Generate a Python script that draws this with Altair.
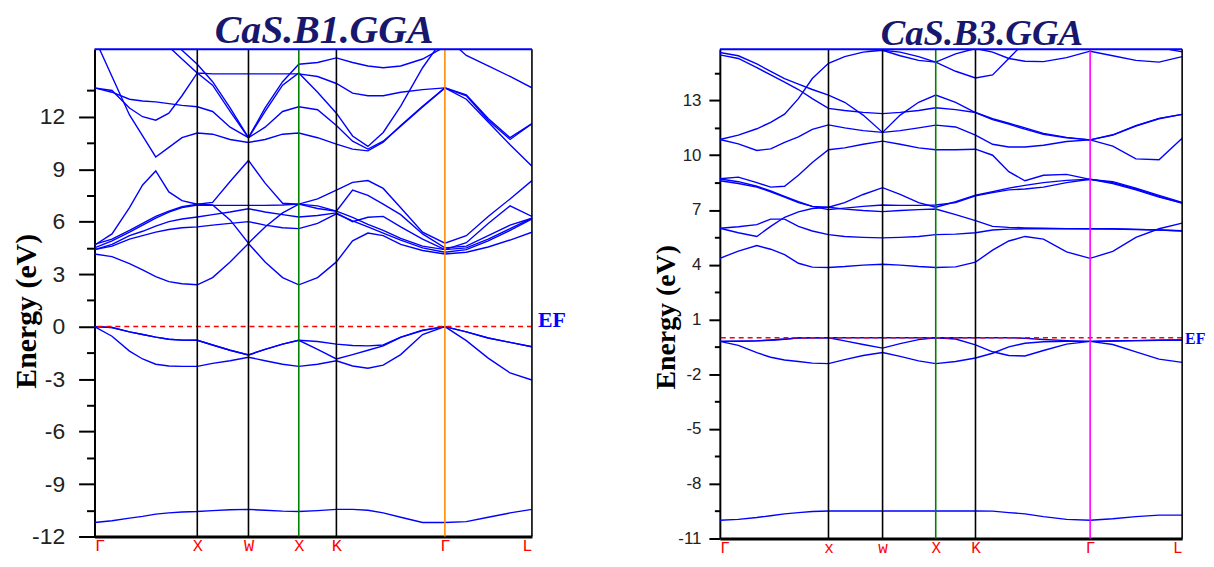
import json
import altair as alt
import pandas as pd

# common k-path grid (fraction of path length)
K = [0, 0.04, 0.08, 0.11, 0.14, 0.17, 0.20, 0.235, 0.27, 0.31, 0.352, 0.39, 0.43,
     0.467, 0.51, 0.553, 0.59, 0.625, 0.66, 0.70, 0.75, 0.801, 0.85, 0.90, 0.95, 1.0]
K_TICKS = [0, 0.235, 0.352, 0.467, 0.553, 0.801, 1.0]
B1_LABELS = ["Γ", "X", "W", "X", "K", "Γ", "L"]
B3_LABELS = ["Γ", "x", "w", "X", "K", "Γ", "L"]
B1_VCOLORS = ["black", "black", "#008000", "black", "#ff8c00", "black"]
B3_VCOLORS = ["black", "black", "#008000", "black", "#ff00ff", "black"]
B1_MAJOR = [-12, -9, -6, -3, 0, 3, 6, 9, 12]
B1_MINOR = [-10.5, -7.5, -4.5, -1.5, 1.5, 4.5, 7.5, 10.5, 13.5]
B3_MAJOR = [-11, -8, -5, -2, 1, 4, 7, 10, 13]
B3_MINOR = [-9.5, -6.5, -3.5, -0.5, 2.5, 5.5, 8.5, 11.5, 14.5]
B1_YRANGE = [-12, 15.85]
B3_YRANGE = [-11, 15.8]
EF_LEVEL = [0.0]

# ---------------- CaS B1 bands ----------------
B1_VB_S = [-11.2, -11.1, -10.95, -10.85, -10.72, -10.65, -10.6, -10.57, -10.52, -10.47, -10.45, -10.5, -10.55,
           -10.57, -10.52, -10.45, -10.45, -10.5, -10.65, -10.9, -11.2, -11.2, -11.15, -10.9, -10.65, -10.45]
B1_VB1 = [0, -0.05, -0.3, -0.45, -0.6, -0.72, -0.77, -0.78, -1.05, -1.35, -1.62, -1.3, -1.0,
          -0.78, -0.85, -1.0, -1.08, -1.1, -1.05, -0.6, -0.2, 0, -0.3, -0.65, -0.9, -1.15]
B1_VB2 = [0, -0.05, -0.3, -0.45, -0.6, -0.72, -0.77, -0.78, -1.05, -1.35, -1.62, -1.3, -1.0,
          -0.78, -1.3, -1.85, -1.6, -1.35, -1.1, -0.62, -0.22, 0, -0.3, -0.65, -0.9, -1.15]
B1_VB3 = [0, -0.55, -1.4, -1.85, -2.15, -2.25, -2.27, -2.27, -2.1, -1.95, -1.75, -1.95, -2.15,
          -2.27, -2.15, -1.95, -2.25, -2.38, -2.2, -1.6, -0.45, 0, -0.8, -1.8, -2.65, -3.05]
B1_CB1 = [4.15, 4.0, 3.6, 3.25, 2.86, 2.57, 2.45, 2.39, 2.8, 3.7, 4.75, 3.7, 2.8,
          2.39, 2.8, 3.7, 4.9, 5.35, 5.2, 4.7, 4.35, 4.15, 4.25, 4.55, 4.95, 5.4]
B1_CB2 = [4.65, 5.3, 6.8, 8.1, 8.9, 7.7, 7.2, 7.0, 7.1, 8.3, 9.5, 8.2, 7.05,
          7.0, 7.3, 7.8, 8.25, 8.35, 7.9, 6.8, 5.4, 4.77, 5.2, 6.3, 7.3, 8.35]
B1_CB3 = [4.7, 5.0, 5.5, 5.9, 6.3, 6.6, 6.85, 7.0, 6.95, 6.1, 4.77, 5.7, 6.5,
          7.0, 6.9, 6.6, 6.25, 5.85, 5.5, 5.05, 4.6, 4.4, 4.8, 5.9, 6.9, 6.3]
B1_CB4 = [4.5, 4.9, 5.4, 5.8, 6.2, 6.55, 6.8, 6.95, 6.93, 6.93, 6.93, 6.93, 6.95,
          7.0, 6.75, 6.6, 7.8, 7.5, 7.0, 6.4, 5.3, 4.5, 4.6, 5.2, 5.8, 6.2]
B1_CB5 = [4.4, 4.7, 5.2, 5.45, 5.75, 6.0, 6.15, 6.27, 6.4, 6.55, 6.74, 6.55, 6.4,
          6.27, 6.35, 6.5, 6.0, 6.25, 6.3, 5.7, 5.0, 4.4, 4.5, 5.0, 5.6, 6.2]
B1_CB6 = [4.4, 4.6, 5.0, 5.2, 5.4, 5.55, 5.65, 5.7, 5.8, 5.9, 6.0, 5.8, 5.65,
          5.6, 5.9, 6.45, 6.05, 5.7, 5.35, 4.95, 4.5, 4.25, 4.4, 4.9, 5.5, 6.15]
B1_CB7 = [13.65, 13.4, 13.0, 12.9, 12.85, 12.75, 12.65, 12.57, 12.3, 11.4, 10.8, 11.4, 12.3,
          12.57, 12.4, 11.5, 10.6, 10.15, 10.6, 11.45, 12.55, 13.65, 13.0, 11.7, 10.4, 9.17]
B1_CB8 = [13.65, 13.5, 12.5, 12.0, 11.8, 12.2, 13.2, 14.5, 13.8, 12.3, 10.8, 12.3, 13.8,
          14.5, 13.4, 12.2, 10.9, 10.3, 11.1, 12.6, 14.8, 16.6, 15.5, 14.9, 14.3, 13.65]
B1_CB9 = [16.5, 14.3, 12.1, 10.9, 9.7, 10.25, 10.8, 11.07, 11.0, 10.7, 10.53, 10.7, 11.0,
          11.07, 10.8, 10.43, 10.15, 10.05, 10.55, 11.5, 12.6, 13.65, 13.25, 11.9, 10.8, 11.6]
B1_CB10 = [18, 18, 17.5, 17, 16.5, 16.0, 15.3, 14.5, 14.45, 14.45, 14.45, 14.45, 14.45,
           14.45, 14.3, 13.9, 13.35, 13.2, 13.2, 13.4, 13.55, 13.65, 13.2, 11.8, 10.7, 11.6]
B1_CB11 = [18, 18, 18, 18, 17.5, 16.6, 15.8, 15.0, 14.0, 12.5, 10.8, 12.5, 14.0,
           15.0, 15.1, 15.36, 15.1, 14.9, 14.8, 14.9, 15.3, 16.0, 17, 17, 17, 17]

# ---------------- CaS B3 bands ----------------
B3_VB_S = [-10.0, -9.95, -9.85, -9.75, -9.65, -9.58, -9.52, -9.49, -9.49, -9.49, -9.49, -9.49, -9.49,
           -9.49, -9.49, -9.49, -9.5, -9.58, -9.65, -9.8, -9.95, -10.0, -9.92, -9.8, -9.72, -9.72]
B3_VB1 = [-0.2, -0.19, -0.17, -0.14, -0.08, 0, 0, 0, 0, 0, 0, 0, 0,
          0, 0, 0, 0, 0, -0.03, -0.1, -0.16, -0.2, -0.18, -0.16, -0.14, -0.12]
B3_VB2 = [-0.2, -0.42, -0.82, -1.07, -1.22, -1.3, -1.39, -1.42, -1.2, -0.97, -0.81, -1.02, -1.27,
          -1.42, -1.3, -1.11, -0.85, -0.5, -0.3, -0.22, -0.2, -0.2, -0.37, -0.77, -1.17, -1.35]
B3_VB3 = [-0.2, -0.19, -0.17, -0.12, -0.07, -0.02, 0, 0, -0.17, -0.37, -0.57, -0.32, -0.1,
          0, -0.07, -0.39, -0.77, -0.97, -1.0, -0.7, -0.35, -0.2, -0.18, -0.16, -0.14, -0.12]
B3_CB1 = [4.35, 4.75, 5.05, 4.85, 4.55, 4.08, 3.87, 3.85, 3.9, 3.98, 4.03, 3.98, 3.9,
          3.85, 3.88, 4.14, 4.8, 5.3, 5.55, 5.4, 4.7, 4.35, 4.73, 5.5, 5.97, 6.28]
B3_CB2 = [6.0, 5.75, 5.55, 6.1, 6.6, 6.9, 7.08, 7.15, 7.4, 7.85, 8.22, 7.85, 7.4,
          7.15, 7.45, 7.81, 8.0, 8.2, 8.35, 8.5, 8.62, 8.68, 8.5, 8.15, 7.75, 7.38]
B3_CB3 = [6.0, 6.08, 6.2, 6.5, 6.5, 6.1, 5.85, 5.65, 5.55, 5.5, 5.47, 5.5, 5.55,
          5.65, 5.68, 5.75, 5.9, 5.95, 5.97, 5.97, 5.97, 5.97, 5.96, 5.93, 5.9, 5.85]
B3_CB4 = [8.6, 8.45, 8.25, 8.0, 7.7, 7.4, 7.2, 7.15, 7.05, 6.97, 6.91, 6.97, 7.02,
          7.05, 6.75, 6.42, 6.1, 6.05, 6.02, 6.0, 5.98, 5.97, 5.97, 5.94, 5.9, 5.86]
B3_CB5 = [8.7, 8.55, 8.3, 8.05, 7.75, 7.45, 7.2, 7.02, 7.1, 7.2, 7.27, 7.25, 7.25,
          7.27, 7.4, 7.77, 7.95, 8.1, 8.15, 8.25, 8.5, 8.68, 8.45, 8.1, 7.7, 7.38]
B3_CB6 = [8.71, 8.8, 8.5, 8.25, 8.3, 8.9, 9.6, 10.3, 10.4, 10.6, 10.77, 10.6, 10.4,
          10.3, 10.3, 10.33, 10.0, 9.1, 8.6, 8.9, 8.95, 8.68, 8.55, 8.2, 7.8, 7.42]
B3_CB7 = [10.86, 10.62, 10.26, 10.35, 10.7, 11.0, 11.42, 11.66, 11.5, 11.35, 11.25, 11.35, 11.5,
          11.65, 11.55, 11.1, 10.6, 10.45, 10.45, 10.55, 10.75, 10.84, 10.5, 9.8, 9.75, 10.93]
B3_CB8 = [10.86, 11.1, 11.45, 11.8, 12.25, 13.1, 14.2, 15.04, 15.4, 15.65, 15.75, 15.65, 15.4,
          15.1, 14.6, 14.23, 14.4, 15.3, 16.2, 16.6, 16.6, 16.6, 16.5, 16.2, 15.9, 15.66]
B3_CB9 = [15.63, 15.45, 15.0, 14.6, 14.2, 13.9, 13.6, 13.29, 12.9, 12.2, 11.25, 12.2, 12.9,
          13.3, 12.9, 12.34, 11.95, 11.7, 11.43, 11.15, 10.95, 10.84, 11.1, 11.6, 12.0, 12.24]
B3_CB10 = [15.5, 15.3, 14.8, 14.4, 14.0, 13.6, 13.1, 12.57, 12.45, 12.35, 12.28, 12.35, 12.45,
           12.6, 12.5, 12.34, 12.0, 11.75, 11.5, 11.2, 10.98, 10.84, 11.12, 11.62, 12.02, 12.24]
B3_CB11 = [16.2, 16.2, 16.1, 16.0, 16.0, 16.0, 15.95, 15.9, 15.85, 15.8, 15.75, 15.45, 15.2,
           15.1, 15.55, 15.85, 15.65, 15.3, 15.15, 15.13, 15.35, 15.7, 15.45, 15.2, 15.1, 15.4]

B1_BANDS = {"vs": B1_VB_S, "v1": B1_VB1, "v2": B1_VB2, "v3": B1_VB3, "c1": B1_CB1, "c2": B1_CB2,
            "c3": B1_CB3, "c4": B1_CB4, "c5": B1_CB5, "c6": B1_CB6, "c7": B1_CB7, "c8": B1_CB8,
            "c9": B1_CB9, "c10": B1_CB10, "c11": B1_CB11}
B3_BANDS = {"vs": B3_VB_S, "v1": B3_VB1, "v2": B3_VB2, "v3": B3_VB3, "c1": B3_CB1, "c2": B3_CB2,
            "c3": B3_CB3, "c4": B3_CB4, "c5": B3_CB5, "c6": B3_CB6, "c7": B3_CB7, "c8": B3_CB8,
            "c9": B3_CB9, "c10": B3_CB10, "c11": B3_CB11}

BLUE = "#0000ff"
NAVY = "#17176e"


def band_frame(bands):
    rows = []
    for name, vals in bands.items():
        for k, e in zip(K, vals):
            rows.append({"band": name, "k": k, "E": e})
    return pd.DataFrame(rows)


def panel(title, tsize, tdx, toff, bands, labels, vcolors, major, minor, yrange, w, h,
          lab_size, tick_len, lab_pad, ytsize, ytx, yty, xlab_size, xlab_pad, ef_size, ef_dx, ef_dy):
    ymin, ymax = yrange
    xs = alt.Scale(domain=[0, 1], nice=False, zero=False)
    ys = alt.Scale(domain=[ymin, ymax], nice=False, zero=False)
    test = f"abs(datum.value - ({ymin})) % 3 < 0.01"
    yaxis = alt.Axis(
        values=sorted(major + minor), labelExpr=f"{test} ? '' + datum.value : ''",
        tickSize={"condition": {"test": test, "value": tick_len}, "value": tick_len / 2},
        tickColor="black", tickWidth=2, labelFont="Liberation Sans", labelFontSize=lab_size,
        labelColor="#222222", labelPadding=lab_pad, domainColor="black", domainWidth=2, grid=False,
        title="Energy (eV)", titleFont="Liberation Serif", titleFontSize=ytsize, titleFontWeight="bold",
        titleColor="black", titleX=ytx, titleY=yty, titleAngle=270, titleAlign="center",
        titleBaseline="middle", labelOverlap=False,
    )
    xaxis = alt.Axis(
        values=K_TICKS, labelExpr=f"{json.dumps(labels)}[indexof({json.dumps(K_TICKS)}, datum.value)]",
        ticks=False, labelFlush=True, labelOverlap=False, labelColor="#ff0000", labelFont="Liberation Mono",
        labelFontSize=xlab_size, labelPadding=xlab_pad, domainColor="black", domainWidth=3, grid=False,
        title=None, labelBaseline="top",
    )
    X = lambda: alt.X("k:Q", scale=xs, axis=xaxis)
    Y = lambda: alt.Y("E:Q", scale=ys, axis=yaxis)
    lines = alt.Chart(band_frame(bands)).mark_line(color=BLUE, strokeWidth=1.4, clip=True).encode(
        x=X(), y=Y(), detail="band:N")
    vlines = alt.Chart(pd.DataFrame({"k": K_TICKS[1:], "c": vcolors})).mark_rule(strokeWidth=1.6).encode(
        x=X(), color=alt.Color("c:N", scale=None))
    ef = alt.Chart(pd.DataFrame({"E": EF_LEVEL})).mark_rule(
        color="#ff0000", strokeDash=[5, 4], strokeWidth=1.5).encode(y=Y())
    top = alt.Chart(pd.DataFrame({"E": [ymax]})).mark_rule(color=BLUE, strokeWidth=2).encode(y=Y())
    eftext = alt.Chart(pd.DataFrame({"k": [1.0], "E": EF_LEVEL, "t": ["EF"]})).mark_text(
        font="Liberation Serif", fontWeight="bold", fontSize=ef_size, color=BLUE, align="left",
        baseline="alphabetic", dx=ef_dx, dy=ef_dy).encode(x=X(), y=Y(), text="t:N")
    return alt.layer(lines, ef, vlines, top, eftext).properties(
        width=w, height=h,
        title=alt.TitleParams(title, font="Liberation Serif", fontSize=tsize, fontWeight="bold",
                              fontStyle="italic", color=NAVY, anchor="middle", frame="group",
                              dx=tdx, offset=toff),
    )


left = panel("CaS.B1.GGA", 40, 11, -3, B1_BANDS, B1_LABELS, B1_VCOLORS, B1_MAJOR, B1_MINOR, B1_YRANGE,
             440, 490, 23, 16, 14, 30, -68, 263, 17, 1, 22, 6, 0)
right = panel("CaS.B3.GGA", 37, 31, -5, B3_BANDS, B3_LABELS, B3_VCOLORS, B3_MAJOR, B3_MINOR, B3_YRANGE,
              465, 492, 17, 11, 8, 28, -54, 269, 16, 1, 16, 3, 6)

# fixed page box: plot origin pinned by padding, svg size = padding sums
chart = alt.hconcat(left, right, spacing=86).properties(
    autosize=alt.AutoSizeParams(type="none"),
    padding={"left": 87, "top": 40, "right": 1118, "bottom": 511},
).configure_view(strokeWidth=0)

chart.save("out.html", embed_options={"renderer": "svg", "actions": False})
